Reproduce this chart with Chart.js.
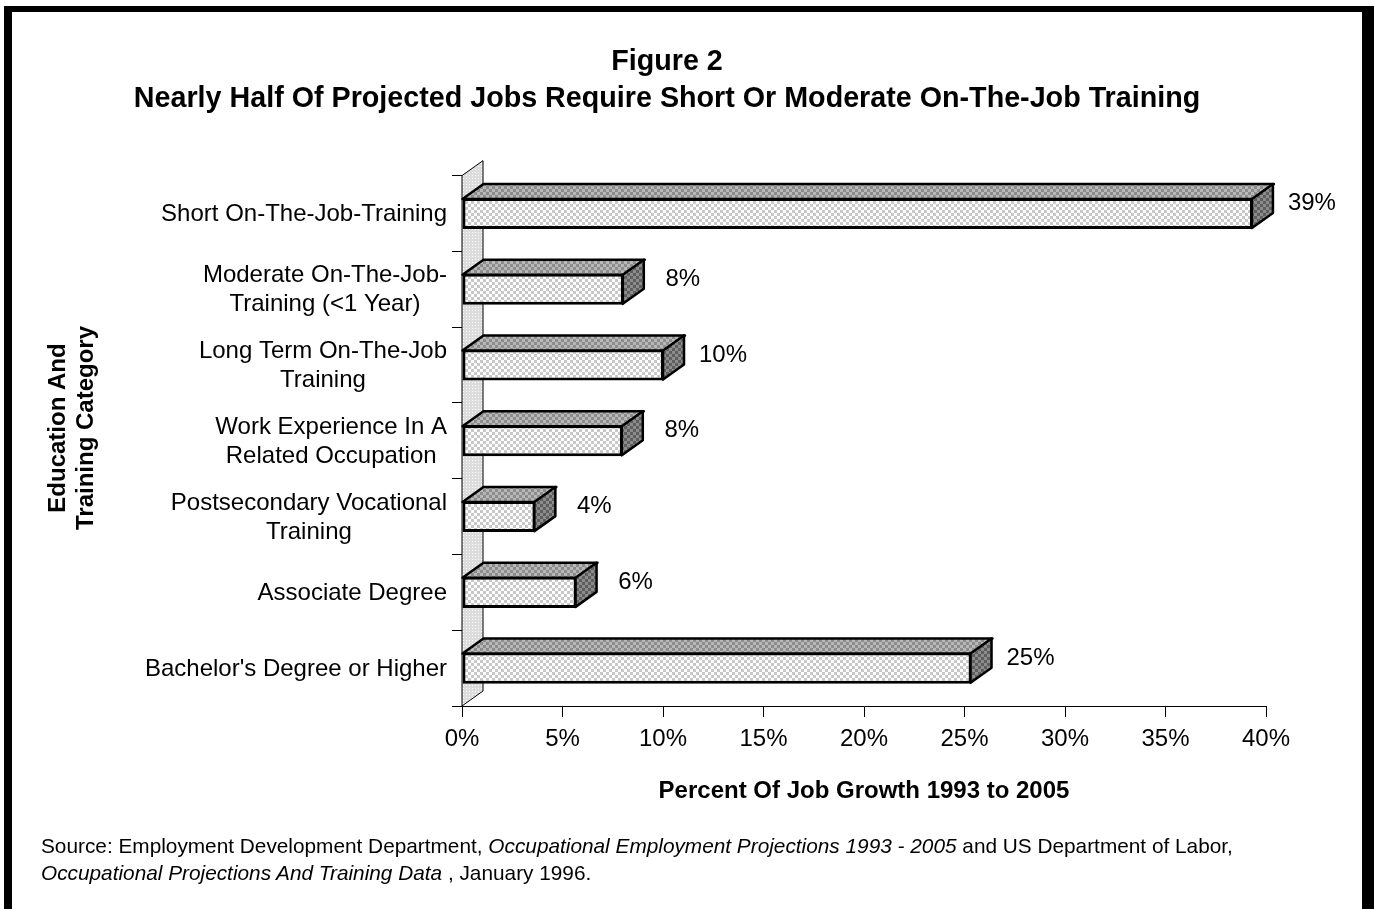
<!DOCTYPE html>
<html>
<head>
<meta charset="utf-8">
<script src="https://cdn.jsdelivr.net/npm/chart.js@4.4.1/dist/chart.umd.min.js"></script>
<style>
  body { margin: 0; background: #fff; width: 1374px; height: 909px; overflow: hidden; position: relative;
         font-family: "Liberation Sans", Arial, sans-serif; }
  #frame { position: absolute; left: 4px; top: 6px; width: 1350px; height: 920px;
           border-left: 8px solid #000; border-top: 6px solid #000; border-right: 12px solid #000; }
  #wrap { position: absolute; left: 12px; top: 12px; width: 1350px; height: 897px; }
  #source { position: absolute; left: 41px; top: 832px; font-size: 20.8px; line-height: 27px; color: #000; }
</style>
</head>
<body>
<div id="frame"></div>
<div id="wrap"><canvas id="main-chart" width="1350" height="897"></canvas></div>
<div id="source">
  Source: Employment Development Department, <i>Occupational Employment Projections 1993 - 2005</i> and US Department of Labor,<br>
  <i>Occupational Projections And Training Data</i> , January 1996.
</div>
<script>
const categories = [
  ['Short On-The-Job-Training'],
  ['Moderate On-The-Job-', 'Training (<1 Year)'],
  ['Long Term On-The-Job', 'Training'],
  ['Work Experience In A', 'Related Occupation'],
  ['Postsecondary Vocational', 'Training'],
  ['Associate Degree'],
  ["Bachelor's Degree or Higher"]
];
const jobGrowth = [39.35, 8.05, 10.05, 8.0, 3.65, 5.7, 25.35];
const xMin = 0;
const xMax = 40;
const xStep = 5;
const titleLines = ['Figure 2', 'Nearly Half Of Projected Jobs Require Short Or Moderate On-The-Job Training'];
const xTitle = 'Percent Of Job Growth 1993 to 2005';
const yTitle = ['Education And', 'Training Category'];

const FONT = '"Liberation Sans", Arial, sans-serif';
const DX = 21, DY = -15;   // 3d depth offset

Chart.defaults.font.family = FONT;
Chart.defaults.color = '#000';

const ctx = document.getElementById('main-chart').getContext('2d');

function checker(c1, c2, size) {
  const cv = document.createElement('canvas');
  cv.width = cv.height = size * 2;
  const g = cv.getContext('2d');
  g.fillStyle = c1;
  g.fillRect(0, 0, size * 2, size * 2);
  g.fillStyle = c2;
  g.fillRect(0, 0, size, size);
  g.fillRect(size, size, size, size);
  return ctx.createPattern(cv, 'repeat');
}

function dots() {
  const cv = document.createElement('canvas');
  cv.width = cv.height = 3;
  const g = cv.getContext('2d');
  g.fillStyle = '#dcdcdc';
  g.fillRect(0, 0, 3, 3);
  g.fillStyle = '#ffffff';
  g.fillRect(1, 1, 1, 1);
  return ctx.createPattern(cv, 'repeat');
}

const patterns = {
  front: checker('#ffffff', '#c8c8c8', 3),
  top: checker('#b8b8b8', '#8c8c8c', 3),
  side: checker('#8c8c8c', '#5e5e5e', 3),
  wall: dots()
};

const bar3d = {
  id: 'bar3d',
  beforeDatasetsDraw(chart) {
    const { ctx, chartArea: { left, top, bottom } } = chart;
    ctx.save();
    ctx.beginPath();
    ctx.moveTo(left, top);
    ctx.lineTo(left + DX, top + DY);
    ctx.lineTo(left + DX, bottom + DY);
    ctx.lineTo(left, bottom);
    ctx.closePath();
    ctx.fillStyle = patterns.wall;
    ctx.fill();
    ctx.lineWidth = 1;
    ctx.strokeStyle = '#000';
    ctx.stroke();
    ctx.restore();
  },
  afterDatasetsDraw(chart) {
    const c = chart.ctx;
    const meta = chart.getDatasetMeta(0);
    c.save();
    c.lineWidth = 2.5;
    c.strokeStyle = '#000';
    c.lineJoin = 'round';
    meta.data.forEach((bar, i) => {
      const { x, y, base, height } = bar.getProps(['x', 'y', 'base', 'height'], true);
      const t = y - height / 2 + 1;
      const b = y + height / 2 - 1;

      // top face
      c.beginPath();
      c.moveTo(base, t);
      c.lineTo(base + DX, t + DY);
      c.lineTo(x + DX, t + DY);
      c.lineTo(x, t);
      c.closePath();
      c.fillStyle = patterns.top;
      c.fill();
      c.stroke();

      // side face
      c.beginPath();
      c.moveTo(x - 1, t);
      c.lineTo(x - 1 + DX, t + DY);
      c.lineTo(x - 1 + DX, b + DY);
      c.lineTo(x - 1, b);
      c.closePath();
      c.fillStyle = patterns.side;
      c.fill();
      c.stroke();

      // value label
      c.fillStyle = '#000';
      c.font = '24px ' + FONT;
      c.textAlign = 'center';
      c.textBaseline = 'middle';
      c.fillText(Math.round(jobGrowth[i]) + '%', x + 59, y - 10);
    });
    c.restore();
  },
  afterDraw(chart) {
    const c = chart.ctx;
    const yScale = chart.scales.y;
    const anchor = chart.chartArea.left - 15;
    c.save();
    c.fillStyle = '#000';
    c.textBaseline = 'middle';
    c.textAlign = 'center';
    c.font = '24px ' + FONT;
    // category labels: block right-aligned, lines centred inside the block
    categories.forEach((lines, i) => {
      const cy = yScale.getPixelForValue(i) + 1;
      const w = Math.max(...lines.map(l => c.measureText(l).width));
      const cx = anchor - w / 2;
      lines.forEach((line, j) => {
        c.fillText(line, cx, cy + (j - (lines.length - 1) / 2) * 29);
      });
    });
    // y axis title
    c.font = 'bold 24px ' + FONT;
    c.translate(60, 416);
    c.rotate(-Math.PI / 2);
    yTitle.forEach((line, j) => {
      c.fillText(line, 0, (j - (yTitle.length - 1) / 2) * 28);
    });
    c.restore();
  }
};

const mainChart = new Chart(ctx, {
  type: 'bar',
  data: {
    labels: categories,
    datasets: [{
      data: jobGrowth,
      backgroundColor: patterns.front,
      borderColor: '#000',
      borderWidth: 3,
      borderSkipped: false,
      barPercentage: 0.41,
      categoryPercentage: 1.0
    }]
  },
  options: {
    indexAxis: 'y',
    responsive: false,
    animation: false,
    events: [],
    layout: { padding: { left: 56, right: 96, top: 0, bottom: 0 } },
    scales: {
      x: {
        min: xMin,
        max: xMax,
        ticks: {
          stepSize: xStep,
          padding: 8,
          font: { size: 24 },
          color: '#000',
          maxRotation: 0,
          callback: (v) => v + '%'
        },
        grid: { drawOnChartArea: false, tickLength: 11, color: '#000' },
        border: { color: '#000', width: 1 },
        title: {
          display: true,
          text: xTitle,
          font: { size: 24, weight: 'bold' },
          color: '#000',
          padding: { top: 0, bottom: 103 }
        },
        afterFit(scale) { scale.height = 203; }
      },
      y: {
        ticks: { display: false },
        grid: { drawOnChartArea: false, tickLength: 10, color: '#000', offset: true },
        border: { color: '#000', width: 1 },
        afterFit(scale) { scale.width = 450 - 56; }
      }
    },
    plugins: {
      legend: { display: false },
      tooltip: { enabled: false },
      title: {
        display: true,
        text: titleLines,
        color: '#000',
        font: { size: 28.7, weight: 'bold', lineHeight: 1.3 },
        padding: { top: 31, bottom: 58 }
      }
    }
  },
  plugins: [bar3d]
});
</script>
</body>
</html>
